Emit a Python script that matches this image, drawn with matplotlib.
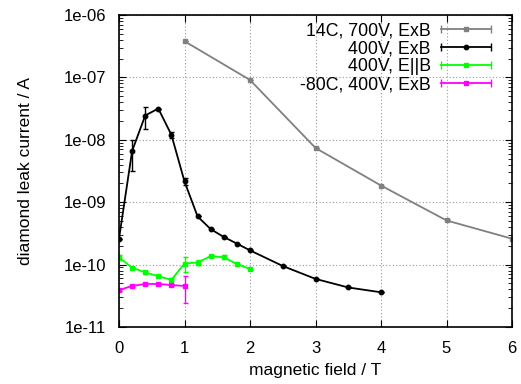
import numpy as np
import matplotlib
matplotlib.use('Agg')
from matplotlib import pyplot as plt
from matplotlib.lines import Line2D
from matplotlib.legend_handler import HandlerBase
from matplotlib.ticker import FixedLocator, NullFormatter, FuncFormatter

plt.rcParams['font.family'] = ['Liberation Sans', 'DejaVu Sans']

# 14C, 700V, ExB
b_warm = [1, 2, 3, 4, 5, 6]
i_warm = [3.8e-7, 9.1e-8, 7.4e-9, 1.85e-9, 5.1e-10, 2.6e-10]
e_warm = [0, 0, 0, 0, 0, 0]

# 400V, ExB
b_exb = [0, 0.2, 0.4, 0.6, 0.8, 1.0, 1.2, 1.4, 1.6, 1.8, 2.0, 2.5, 3.0, 3.5, 4.0]
i_exb = [2.6e-10, 6.6e-9, 2.45e-8, 3.17e-8, 1.2e-8, 2.15e-9, 5.9e-10, 3.7e-10,
         2.77e-10, 2.17e-10, 1.69e-10, 9.5e-11, 5.9e-11, 4.3e-11, 3.6e-11]
e_exb = [0, 3.4e-9, 9.5e-9, 0, 1.3e-9, 2.5e-10, 0, 0, 0, 0, 0, 0, 0, 0, 0]

# 400V, E||B
b_par = [0, 0.2, 0.4, 0.6, 0.8, 1.0, 1.2, 1.4, 1.6, 1.8, 2.0]
i_par = [1.31e-10, 8.9e-11, 7.5e-11, 6.5e-11, 5.7e-11, 1.04e-10, 1.08e-10,
         1.37e-10, 1.31e-10, 1.02e-10, 8.5e-11]
e_par = [1.3e-11, 4e-12, 3e-12, 2e-12, 3e-12, 2.8e-11, 1.0e-11, 4e-12, 1.0e-11, 2e-12, 2e-12]

# -80C, 400V, ExB
b_cold = [0, 0.2, 0.4, 0.6, 0.8, 1.0]
i_cold = [3.9e-11, 4.55e-11, 4.9e-11, 4.9e-11, 4.7e-11, 4.55e-11]
e_cold = [1.5e-12, 1.5e-12, 1.5e-12, 1.5e-12, 1.5e-12, 2.1e-11]

y_exps = [-11, -10, -9, -8, -7, -6]


# gnuplot-like legend sample: horizontal line with end caps and a centre marker
class CapHandler(HandlerBase):
    def create_artists(self, legend, h, xd, yd, w, ht, fs, trans):
        y = ht / 2 - yd
        x0, x1 = -xd, w - xd
        c = h.get_color()
        line = Line2D([x0, x1], [y, y], color=c, lw=h.get_linewidth())
        caps = Line2D([x0, x1], [y, y], color=c, ls='none', marker='|', ms=6, mew=1.0)
        mid = Line2D([(x0 + x1) / 2], [y], color=c, ls='none', marker=h.get_marker(),
                     ms=h.get_markersize())
        for a in (line, caps, mid):
            a.set_transform(trans)
        return [line, caps, mid]


fig = plt.figure(figsize=(5.21, 3.84), dpi=100)
ax = fig.add_axes([119/521, 1 - 327/384, (512-119)/521, (327-15)/384])

kw = dict(lw=1.3, capsize=1.8, capthick=1.0, elinewidth=1.0)
series = [
    (b_warm, i_warm, e_warm, '#808080', 's', 2.5, '14C, 700V, ExB'),
    (b_exb, i_exb, e_exb, 'black', 'o', 3.2, '400V, ExB'),
    (b_par, i_par, e_par, '#00ff00', 's', 2.5, '400V, E||B'),
    (b_cold, i_cold, e_cold, '#ff00ff', 's', 3.2, '-80C, 400V, ExB'),
]
handles = []
for bx, iy, ey, col, mk, ms, lab in series:
    ax.errorbar(bx, iy, yerr=ey, color=col, marker=mk, markersize=ms, **kw)
    handles.append(Line2D([], [], color=col, lw=1.3, marker=mk, markersize=ms, label=lab))

ax.set_yscale('log')
ax.set_xlim(0, 6)
ax.set_ylim(1e-11, 1e-6)
ax.set_xticks(range(7))
major = [10.0 ** k for k in y_exps]
minor = [m * 10.0 ** k for k in y_exps[:-1] for m in range(2, 10)]
ax.yaxis.set_major_locator(FixedLocator(major))
ax.yaxis.set_minor_locator(FixedLocator(minor))
ax.yaxis.set_minor_formatter(NullFormatter())
ax.yaxis.set_major_formatter(FuncFormatter(lambda v, p: '1e-%02d' % round(-np.log10(v))))

ax.grid(True, which='major', color='#999999', linestyle=(0, (1, 2)), lw=0.8)
ax.tick_params(which='both', direction='in', top=True, right=True, labelsize=12)
ax.tick_params(axis='y', pad=9)
ax.tick_params(axis='x', pad=10)
ax.tick_params(which='major', length=5)
ax.tick_params(which='minor', length=3)
for s in ax.spines.values():
    s.set_linewidth(1.2)

ax.set_xlabel('magnetic field / T', fontsize=12.5, labelpad=5)
ax.set_ylabel('diamond leak current / A', fontsize=12.5, labelpad=22)

ax.legend(handles=handles, handler_map={Line2D: CapHandler()}, loc='upper right',
          bbox_to_anchor=(0.955, 0.987), fontsize=12.8, frameon=False, markerfirst=False,
          handlelength=2.8, labelspacing=0.05, borderpad=0.2, borderaxespad=0,
          handletextpad=0.57)

fig.savefig('out.png', dpi=100)
